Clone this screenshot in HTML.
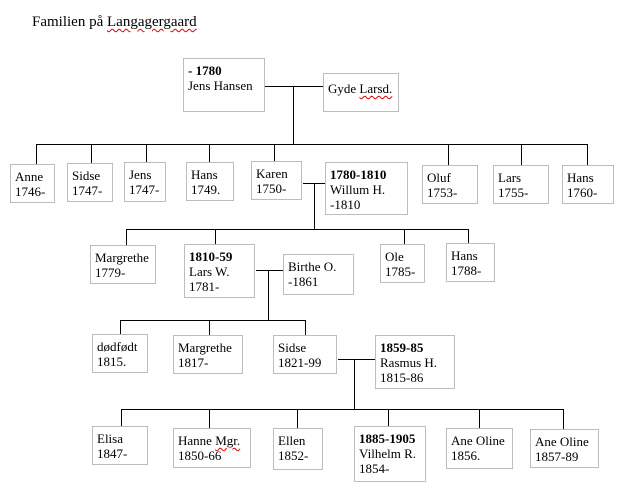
<!DOCTYPE html>
<html><head><meta charset="utf-8"><style>
body{margin:0;width:620px;height:490px;background:#fff;position:relative;overflow:hidden;font-family:"Liberation Serif",serif;color:#000}
.b{position:absolute;border:1px solid #bdbdbd;box-sizing:border-box;font-size:13px;line-height:15px;padding:4px 0 0 4px;white-space:nowrap}
.h{position:absolute;height:1px;background:#000}
.v{position:absolute;width:1px;background:#000}
.t{position:absolute;left:32px;top:14px;font-size:15px}
u{text-decoration:underline wavy #d00;text-decoration-thickness:1px;text-underline-offset:2px}
</style></head><body>
<div class="t">Familien på <u>Langagergaard</u></div>

<div class="b" style="left:183px;top:58px;width:82px;height:54px"><b>- 1780</b><br>Jens Hansen</div>
<div class="b" style="left:323px;top:73px;width:76px;height:39px;padding-top:7px">Gyde <u>Larsd.</u></div>
<div class="h" style="left:265px;top:86px;width:58px"></div>
<div class="v" style="left:293px;top:86px;height:58px"></div>
<div class="h" style="left:36px;top:144px;width:552px"></div>
<div class="v" style="left:36px;top:144px;height:20px"></div>
<div class="v" style="left:91px;top:144px;height:19px"></div>
<div class="v" style="left:146px;top:144px;height:18px"></div>
<div class="v" style="left:209px;top:144px;height:18px"></div>
<div class="v" style="left:274px;top:144px;height:17px"></div>
<div class="v" style="left:448px;top:144px;height:21px"></div>
<div class="v" style="left:521px;top:144px;height:21px"></div>
<div class="v" style="left:587px;top:144px;height:21px"></div>

<div class="b" style="left:10px;top:164px;width:45px;height:39px">Anne<br>1746-</div>
<div class="b" style="left:67px;top:163px;width:46px;height:39px">Sidse<br>1747-</div>
<div class="b" style="left:124px;top:162px;width:42px;height:40px">Jens<br>1747-</div>
<div class="b" style="left:186px;top:162px;width:48px;height:39px">Hans<br>1749.</div>
<div class="b" style="left:251px;top:161px;width:51px;height:39px">Karen<br>1750-</div>
<div class="b" style="left:325px;top:162px;width:83px;height:53px"><b>1780-1810</b><br>Willum H.<br>-1810</div>
<div class="b" style="left:422px;top:165px;width:56px;height:39px">Oluf<br>1753-</div>
<div class="b" style="left:493px;top:165px;width:56px;height:39px">Lars<br>1755-</div>
<div class="b" style="left:562px;top:165px;width:52px;height:39px">Hans<br>1760-</div>

<div class="h" style="left:303px;top:183px;width:22px"></div>
<div class="v" style="left:314px;top:183px;height:46px"></div>
<div class="h" style="left:126px;top:229px;width:343px"></div>
<div class="v" style="left:126px;top:229px;height:16px"></div>
<div class="v" style="left:215px;top:229px;height:15px"></div>
<div class="v" style="left:404px;top:229px;height:15px"></div>
<div class="v" style="left:468px;top:229px;height:14px"></div>

<div class="b" style="left:90px;top:245px;width:66px;height:39px">Margrethe<br>1779-</div>
<div class="b" style="left:184px;top:244px;width:71px;height:54px"><b>1810-59</b><br>Lars W.<br>1781-</div>
<div class="b" style="left:283px;top:254px;width:71px;height:41px">Birthe O.<br>-1861</div>
<div class="b" style="left:380px;top:244px;width:45px;height:39px">Ole<br>1785-</div>
<div class="b" style="left:446px;top:243px;width:49px;height:39px">Hans<br>1788-</div>

<div class="h" style="left:256px;top:270px;width:27px"></div>
<div class="v" style="left:268px;top:270px;height:50px"></div>
<div class="h" style="left:120px;top:320px;width:186px"></div>
<div class="v" style="left:120px;top:320px;height:14px"></div>
<div class="v" style="left:209px;top:320px;height:15px"></div>
<div class="v" style="left:305px;top:320px;height:15px"></div>

<div class="b" style="left:92px;top:334px;width:56px;height:39px">dødfødt<br>1815.</div>
<div class="b" style="left:173px;top:335px;width:70px;height:39px">Margrethe<br>1817-</div>
<div class="b" style="left:273px;top:335px;width:64px;height:39px">Sidse<br>1821-99</div>
<div class="b" style="left:375px;top:335px;width:80px;height:54px"><b>1859-85</b><br>Rasmus H.<br>1815-86</div>

<div class="h" style="left:338px;top:359px;width:37px"></div>
<div class="v" style="left:354px;top:359px;height:50px"></div>
<div class="h" style="left:121px;top:409px;width:443px"></div>
<div class="v" style="left:121px;top:409px;height:17px"></div>
<div class="v" style="left:209px;top:409px;height:19px"></div>
<div class="v" style="left:297px;top:409px;height:19px"></div>
<div class="v" style="left:388px;top:409px;height:17px"></div>
<div class="v" style="left:479px;top:409px;height:19px"></div>
<div class="v" style="left:563px;top:409px;height:20px"></div>

<div class="b" style="left:92px;top:426px;width:56px;height:39px">Elisa<br>1847-</div>
<div class="b" style="left:173px;top:428px;width:78px;height:40px">Hanne <u>Mgr.</u><br>1850-66</div>
<div class="b" style="left:273px;top:428px;width:50px;height:42px">Ellen<br>1852-</div>
<div class="b" style="left:354px;top:426px;width:72px;height:56px"><b>1885-1905</b><br>Vilhelm R.<br>1854-</div>
<div class="b" style="left:446px;top:428px;width:67px;height:41px">Ane Oline<br>1856.</div>
<div class="b" style="left:530px;top:429px;width:69px;height:39px">Ane Oline<br>1857-89</div>
</body></html>
